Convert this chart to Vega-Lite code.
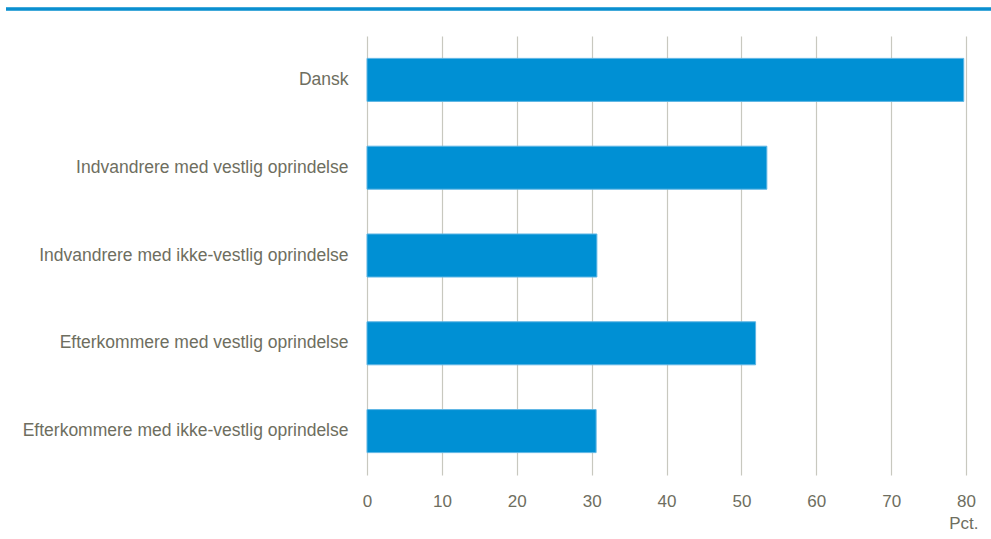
{
  "$schema": "https://vega.github.io/schema/vega-lite/v6.json",
  "width": 599,
  "height": 439,
  "autosize": {"type": "none"},
  "padding": {"left": 367, "top": 36, "right": 25, "bottom": 64},
  "background": "white",
  "config": {
    "view": {"stroke": null},
    "font": "Liberation Sans",
    "axis": {"labelFont": "Liberation Sans", "titleFont": "Liberation Sans"}
  },
  "data": {
    "values": [
      {"gruppe": "Dansk", "pct": 79.7},
      {"gruppe": "Indvandrere med vestlig oprindelse", "pct": 53.4},
      {"gruppe": "Indvandrere med ikke-vestlig oprindelse", "pct": 30.7},
      {"gruppe": "Efterkommere med vestlig oprindelse", "pct": 51.9},
      {"gruppe": "Efterkommere med ikke-vestlig oprindelse", "pct": 30.6}
    ]
  },
  "layer": [
    {
      "mark": {"type": "bar", "color": "#0090d4", "stroke": "#5fb6e4", "strokeWidth": 1},
      "encoding": {
        "y": {
          "field": "gruppe",
          "type": "nominal",
          "sort": null,
          "scale": {"paddingInner": 0.51, "paddingOuter": 0.255},
          "axis": {
            "title": null,
            "domain": false,
            "ticks": false,
            "labelPadding": 19,
            "labelFontSize": 17.5,
            "labelColor": "#6e6e60",
            "labelLimit": 400
          }
        },
        "x": {
          "field": "pct",
          "type": "quantitative",
          "scale": {"domain": [0, 80], "nice": false},
          "axis": {
            "values": [0, 10, 20, 30, 40, 50, 60, 70, 80],
            "title": "Pct.",
            "titleFontWeight": "normal",
            "titleFontSize": 17,
            "titleColor": "#6e6e60",
            "titleAnchor": "end",
            "titleAlign": "right",
            "titleBaseline": "top",
            "titleX": 611,
            "titleY": 40,
            "domain": false,
            "ticks": false,
            "grid": true,
            "gridColor": "#c8c8bf",
            "gridWidth": 1.2,
            "labelFlush": false,
            "labelPadding": 18,
            "labelFontSize": 17,
            "labelColor": "#6e6e60"
          }
        }
      }
    },
    {
      "mark": {"type": "rule", "color": "#0a8fd0", "strokeWidth": 2.5},
      "encoding": {
        "x": {"value": -361},
        "x2": {"value": 624},
        "y": {"value": -27}
      }
    }
  ]
}
